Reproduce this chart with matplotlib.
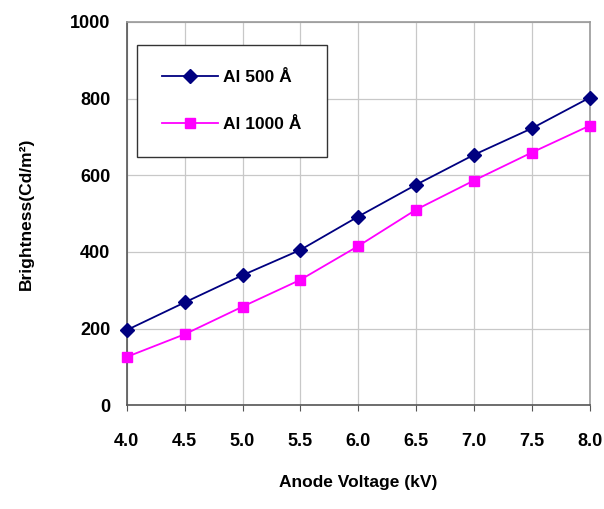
import matplotlib.pyplot as plt

# anode voltage (kV) and brightness (Cd/m^2)
voltage = [4.0, 4.5, 5.0, 5.5, 6.0, 6.5, 7.0, 7.5, 8.0]
al_500 = [196, 268, 339, 405, 492, 575, 653, 722, 802]
al_1000 = [126, 185, 257, 327, 415, 510, 586, 659, 729]
x_ticks = ["4.0", "4.5", "5.0", "5.5", "6.0", "6.5", "7.0", "7.5", "8.0"]
y_ticks = [0, 200, 400, 600, 800, 1000]

plt.rcParams['font.family'] = ['Liberation Sans', 'DejaVu Sans']

fig = plt.figure(figsize=(6.04, 5.09), dpi=100)
ax = fig.add_axes([0.21, 0.204, 0.766, 0.753])

ax.plot(voltage, al_500, color="#000080", marker="D", markersize=7, linewidth=1.3,
        label="Al 500 \u00c5", clip_on=False, zorder=3)
ax.plot(voltage, al_1000, color="#ff00ff", marker="s", markersize=7, linewidth=1.3,
        label="Al 1000 \u00c5", clip_on=False, zorder=3)

ax.set_xlim(4.0, 8.0)
ax.set_ylim(0, 1000)
ax.set_xticks(voltage)
ax.set_xticklabels(x_ticks)
ax.set_yticks(y_ticks)
ax.grid(True, color="#c8c8c8", linewidth=0.9)
ax.set_axisbelow(True)

for s in ["left", "bottom"]:
    ax.spines[s].set_color("#555555")
    ax.spines[s].set_linewidth(1.2)
for s in ["top", "right"]:
    ax.spines[s].set_color("#999999")
    ax.spines[s].set_linewidth(1.2)

ax.tick_params(axis="x", direction="out", length=4, pad=16, labelsize=13, color="#555555")
ax.tick_params(axis="y", length=0, pad=12, labelsize=13)
for lbl in ax.get_xticklabels() + ax.get_yticklabels():
    lbl.set_fontweight("bold")

ax.set_xlabel("Anode Voltage (kV)", fontsize=12.5, fontweight="bold", labelpad=18)
ax.set_ylabel("Brightness(Cd/m\u00b2)", fontsize=12.5, fontweight="bold", labelpad=26)

leg = ax.legend(loc="upper left", bbox_to_anchor=(0.022, 0.94), borderaxespad=0,
                fancybox=False, framealpha=1, edgecolor="#333333", fontsize=12.5,
                borderpad=1.45, labelspacing=1.8, handlelength=3.2, handletextpad=0.3)
leg.get_frame().set_linewidth(1.0)
for t in leg.get_texts():
    t.set_fontweight("bold")

fig.savefig("out.png", dpi=100)
